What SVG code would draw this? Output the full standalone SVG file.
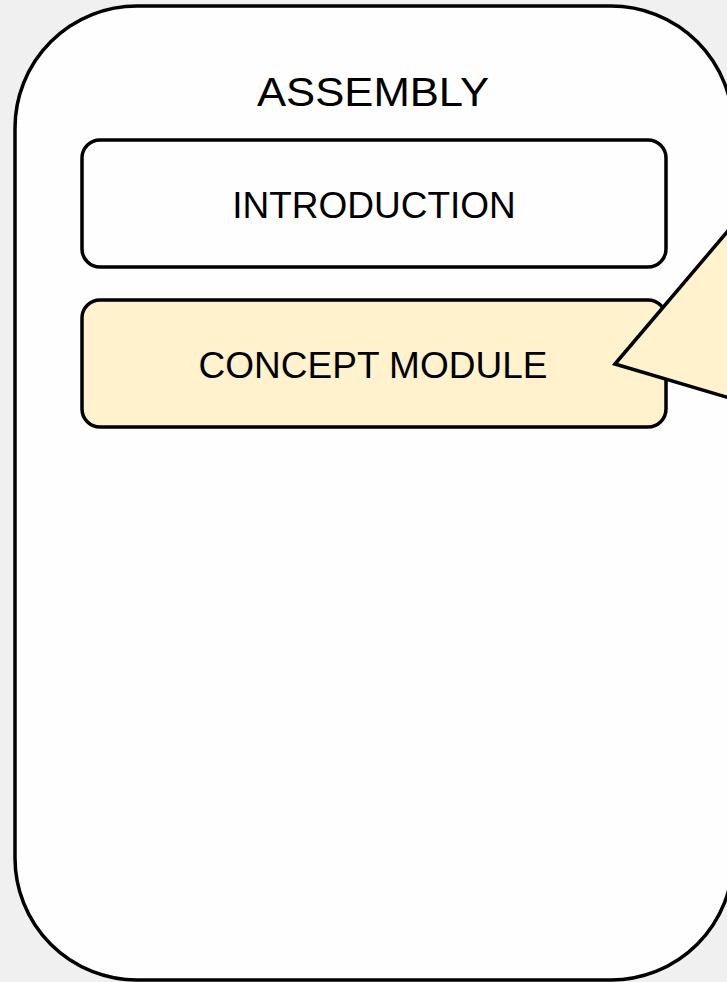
<svg xmlns="http://www.w3.org/2000/svg" width="727" height="982" viewBox="0 0 727 982">
<style>
.box{stroke:#000;stroke-width:3.5}
.lbl{font-family:"Liberation Sans",Arial,sans-serif;fill:#000;text-anchor:middle}
</style>
<rect x="0" y="0" width="727" height="982" fill="#f0f0f0"/>
<g id="assembly">
<rect class="box" x="15" y="6" width="718" height="974" rx="122" ry="122" fill="#fefefe"/>
<text class="lbl" x="373" y="106" font-size="41" textLength="232" lengthAdjust="spacingAndGlyphs">ASSEMBLY</text>
</g>
<g id="introduction">
<rect class="box" x="82" y="140" width="584" height="127" rx="18" ry="18" fill="#fefefe"/>
<text class="lbl" x="374" y="218" font-size="37">INTRODUCTION</text>
</g>
<g id="concept-module">
<rect class="box" x="82" y="300" width="584" height="127" rx="18" ry="18" fill="#fff2cc"/>
<text class="lbl" x="373" y="378" font-size="37">CONCEPT MODULE</text>
</g>
<g id="connectors">
<polygon class="box" points="615,364 800,146 800,419" fill="#fff2cc" stroke-linejoin="miter"/>
</g>
</svg>
